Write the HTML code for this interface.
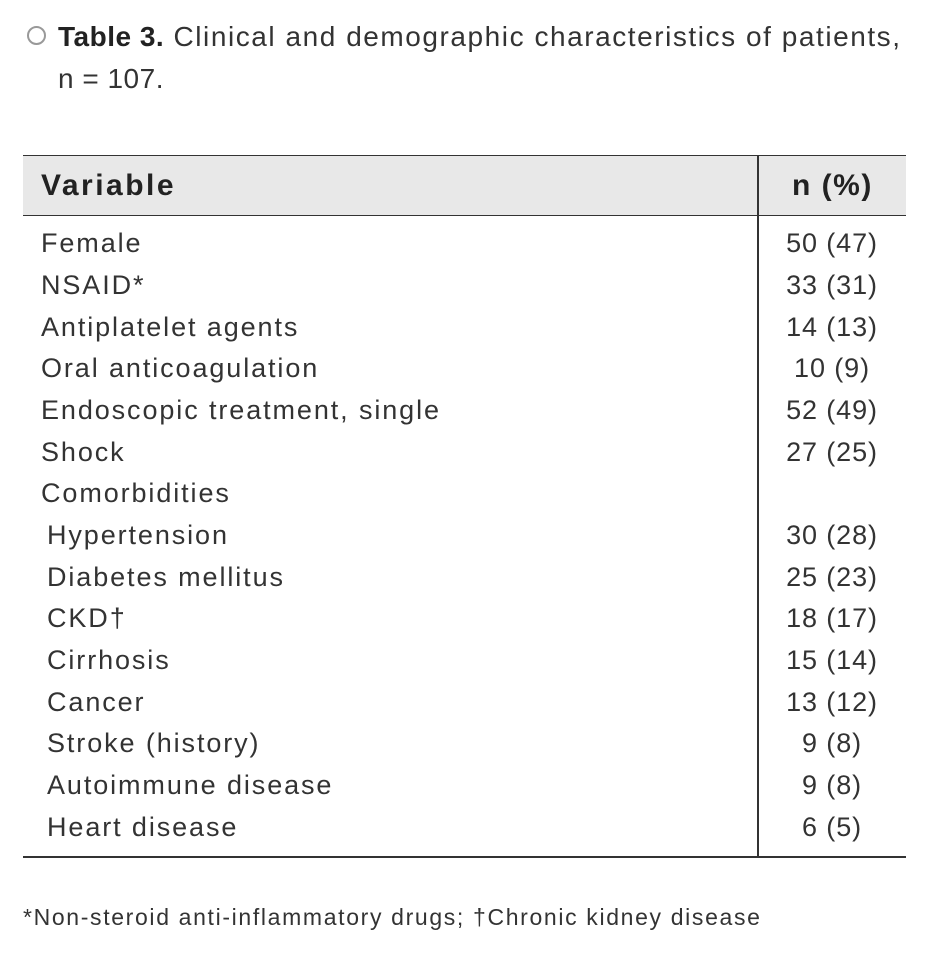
<!DOCTYPE html>
<html><head><meta charset="utf-8"><style>
body{margin:0;width:933px;height:954px;background:#fff;font-family:"Liberation Sans",sans-serif;color:#222;position:relative;overflow:hidden}
.a{position:absolute;white-space:nowrap}
.r{font-size:27px;letter-spacing:1.9px;line-height:1;color:#333}
.v{position:absolute;width:120px;text-align:center;left:772px;font-size:27px;letter-spacing:0.9px;line-height:1;color:#333}
</style></head><body>
<div class="a" style="left:27px;top:26px;width:15px;height:15px;border:2.5px solid #999;border-radius:50%"></div>
<div class="a" style="left:58px;top:21px;font-size:28px;letter-spacing:1.55px;color:#333"><b style="color:#222;letter-spacing:0.5px">Table 3.</b> Clinical and demographic characteristics of patients,</div>
<div class="a" style="left:58px;top:63px;font-size:28px;letter-spacing:0.5px;color:#333">n = 107.</div>
<div class="a" style="left:23px;top:155px;width:883px;height:59px;background:#e8e8e8;border-top:1.5px solid #333;border-bottom:1.5px solid #333"></div>
<div class="a" style="left:757px;top:155px;width:1.5px;height:701px;background:#333"></div>
<div class="a" style="left:23px;top:856px;width:883px;height:1.5px;background:#333"></div>
<div class="a" style="left:41px;top:169px;font-size:30px;letter-spacing:2.5px;font-weight:bold;color:#222">Variable</div>
<div class="a" style="left:792px;top:169px;font-size:30px;letter-spacing:1.5px;font-weight:bold;color:#222">n (%)</div>
<div class="a r" style="left:41px;top:230px">Female</div><div class="v" style="top:230px">50 (47)</div>
<div class="a r" style="left:41px;top:272px">NSAID*</div><div class="v" style="top:272px">33 (31)</div>
<div class="a r" style="left:41px;top:314px">Antiplatelet agents</div><div class="v" style="top:314px">14 (13)</div>
<div class="a r" style="left:41px;top:355px">Oral anticoagulation</div><div class="v" style="top:355px">10 (9)</div>
<div class="a r" style="left:41px;top:397px">Endoscopic treatment, single</div><div class="v" style="top:397px">52 (49)</div>
<div class="a r" style="left:41px;top:439px">Shock</div><div class="v" style="top:439px">27 (25)</div>
<div class="a r" style="left:41px;top:480px">Comorbidities</div>
<div class="a r" style="left:47px;top:522px">Hypertension</div><div class="v" style="top:522px">30 (28)</div>
<div class="a r" style="left:47px;top:564px">Diabetes mellitus</div><div class="v" style="top:564px">25 (23)</div>
<div class="a r" style="left:47px;top:605px">CKD†</div><div class="v" style="top:605px">18 (17)</div>
<div class="a r" style="left:47px;top:647px">Cirrhosis</div><div class="v" style="top:647px">15 (14)</div>
<div class="a r" style="left:47px;top:689px">Cancer</div><div class="v" style="top:689px">13 (12)</div>
<div class="a r" style="left:47px;top:730px">Stroke (history)</div><div class="v" style="top:730px">9 (8)</div>
<div class="a r" style="left:47px;top:772px">Autoimmune disease</div><div class="v" style="top:772px">9 (8)</div>
<div class="a r" style="left:47px;top:814px">Heart disease</div><div class="v" style="top:814px">6 (5)</div>
<div class="a" style="left:23px;top:904px;font-size:23px;letter-spacing:1.65px;color:#333">*Non-steroid anti-inflammatory drugs; †Chronic kidney disease</div>
</body></html>
